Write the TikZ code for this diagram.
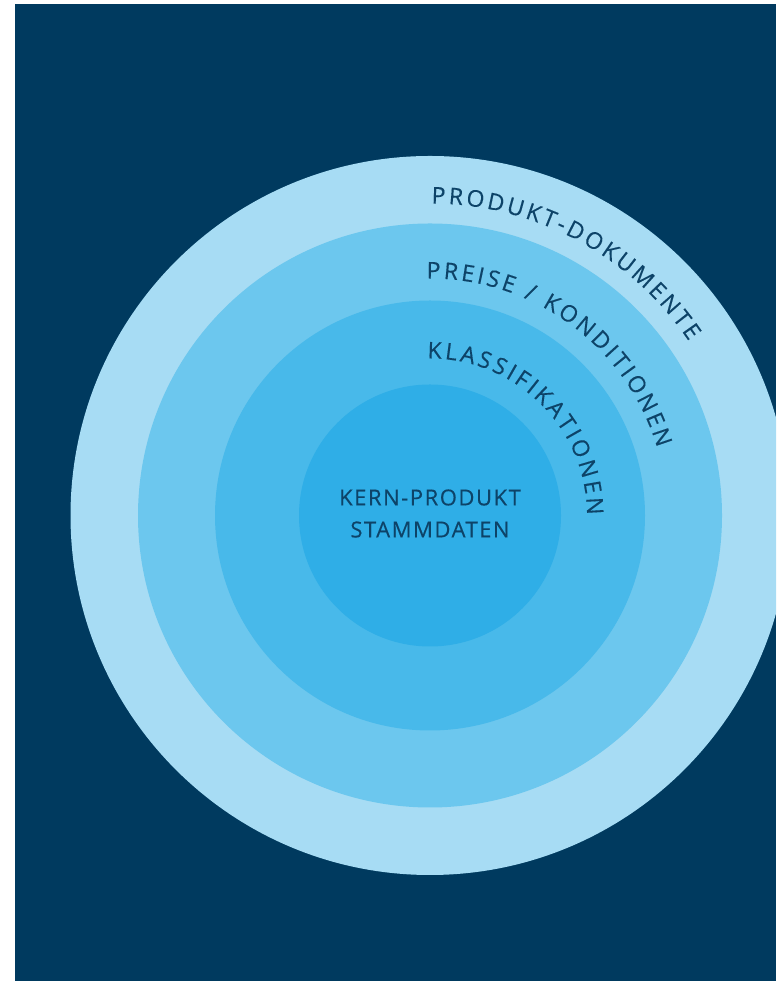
\documentclass[tikz,border=0pt]{standalone}
\usepackage{fontspec}
\setmainfont{Open Sans}[FakeBold=0.35]
\usetikzlibrary{decorations.text, positioning}
\definecolor{bgnavy}{HTML}{003A5F}
\definecolor{ringA}{HTML}{A7DCF4}
\definecolor{ringB}{HTML}{6CC7EE}
\definecolor{ringC}{HTML}{48B9EA}
\definecolor{ringD}{HTML}{2FAEE7}
\definecolor{labelnavy}{HTML}{0D4368}
\tikzset{
  ring/.style={circle, draw=none, inner sep=0pt, minimum size=#1}, % one filled disc
  arclabel/.style={
    font=\fontsize{23}{27}\selectfont, % same size on every ring
    decorate,
    decoration={text effects along path, text={#1},
      text effects/.cd, text along path,
      characters={text=labelnavy},
      character widths={inner xsep=1.5pt}} % spread the letters
  }
}
\begin{document}
\begin{tikzpicture}
\useasboundingbox (0pt,0pt) rectangle (776pt,981pt);
\clip (15pt,0pt) rectangle (776pt,977pt);
\fill[bgnavy] (15pt,0pt) rectangle (776pt,977pt);
\coordinate (c) at (430pt,465.5pt);
% the four discs, largest first
\node[ring=719pt, fill=ringA] (docs) at (c) {};
\node[ring=584pt, fill=ringB] (prices) at (c) {};
\node[ring=430pt, fill=ringC] (classes) at (c) {};
\node[ring=262pt, fill=ringD] (core) at (c) {};
\node[align=center, text=labelnavy, font=\fontsize{22}{32}\selectfont\addfontfeature{LetterSpace=7}] (coretext) at ([yshift=2pt]c) {KERN-PRODUKT\\STAMMDATEN};
% labels round the rings
\path[arclabel={PRODUKT-DOKUMENTE}] ([shift={(90:312pt)}]c) arc[start angle=90, end angle=0, radius=312pt];
\path[arclabel={PREISE / KONDITIONEN}] ([shift={(91.2:237pt)}]c) arc[start angle=91.2, end angle=-20, radius=237pt];
\path[arclabel={KLASSIFIKATIONEN}] ([shift={(91.5:157pt)}]c) arc[start angle=91.5, end angle=-40, radius=157pt];
\end{tikzpicture}
\end{document}
